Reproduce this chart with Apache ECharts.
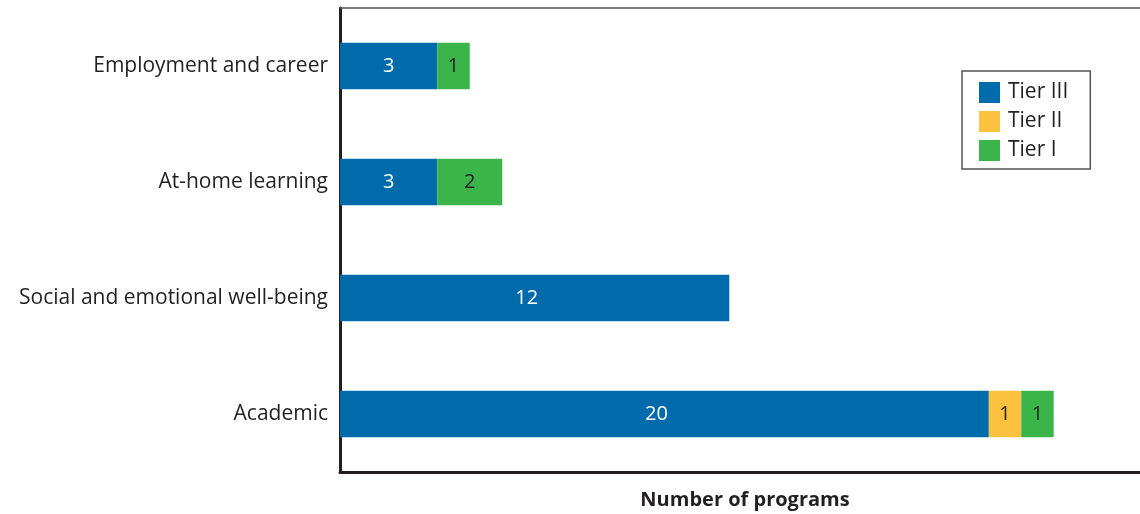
<!DOCTYPE html>
<html><head><meta charset="utf-8">
<script src="https://cdn.jsdelivr.net/npm/echarts@6/dist/echarts.min.js"></script>
<style>html,body{margin:0;padding:0;background:#fff}#c{width:1140px;height:514px}</style>
</head><body><div id="c"></div>
<script>
const categories = ['Academic', 'Social and emotional well-being', 'At-home learning', 'Employment and career'];
const tierIII = [20, 12, 3, 3];
const tierII = [1, null, null, null];
const tierI = [1, null, 2, 1];
const seriesNames = ['Tier III', 'Tier II', 'Tier I'];
const colors = ['#006BAA', '#FDC140', '#3BB54A'];
const FONT = '"Open Sans", "Noto Sans", sans-serif';

const chart = echarts.init(document.getElementById('c'), null, {renderer: 'canvas'});
const mk = (name, data, color, labelColor) => ({
  name, type: 'bar', stack: 'total', barWidth: '40%',
  data: data.map(v => ({value: v, label: {offset: [v != null && v >= 10 ? -8 : 0, 0]}})),
  itemStyle: {color},
  label: {show: true, position: 'inside', color: labelColor, fontSize: 20, fontFamily: FONT},
  emphasis: {disabled: true}
});
chart.setOption({
  animation: false,
  textStyle: {fontFamily: FONT},
  grid: {left: 340, right: 0, top: 8, bottom: 42, outerBoundsMode: 'none', containLabel: false},
  legend: {
    orient: 'vertical', left: 962, top: 71,
    itemWidth: 21, itemHeight: 21, itemGap: 8,
    padding: [11, 22, 8, 17],
    borderColor: '#555', borderWidth: 1.5,
    textStyle: {fontSize: 21, color: '#231f20', fontFamily: FONT, padding: [0, 0, 0, 3]},
    icon: 'rect',
    data: seriesNames
  },
  xAxis: [{
    type: 'value', min: 0, max: 24.66,
    name: 'Number of programs', nameLocation: 'middle', nameGap: 18,
    nameTextStyle: {fontSize: 20, fontWeight: 'bold', color: '#231f20', fontFamily: FONT, padding: [0, 0, 0, 10]},
    axisLine: {show: true, lineStyle: {color: '#231f20', width: 3}},
    axisTick: {show: false}, axisLabel: {show: false}, splitLine: {show: false}
  }, {
    type: 'value', position: 'top', min: 0, max: 24.66,
    axisLine: {show: true, lineStyle: {color: '#555', width: 1.5}},
    axisTick: {show: false}, axisLabel: {show: false}, splitLine: {show: false}
  }],
  yAxis: {
    type: 'category', data: categories,
    axisLine: {show: true, lineStyle: {color: '#231f20', width: 3}},
    axisTick: {show: false},
    axisLabel: {fontSize: 21, color: '#231f20', margin: 12, fontFamily: FONT}
  },
  series: [
    mk(seriesNames[0], tierIII, colors[0], '#ffffff'),
    mk(seriesNames[1], tierII, colors[1], '#231f20'),
    mk(seriesNames[2], tierI, colors[2], '#231f20')
  ]
});
</script></body></html>
